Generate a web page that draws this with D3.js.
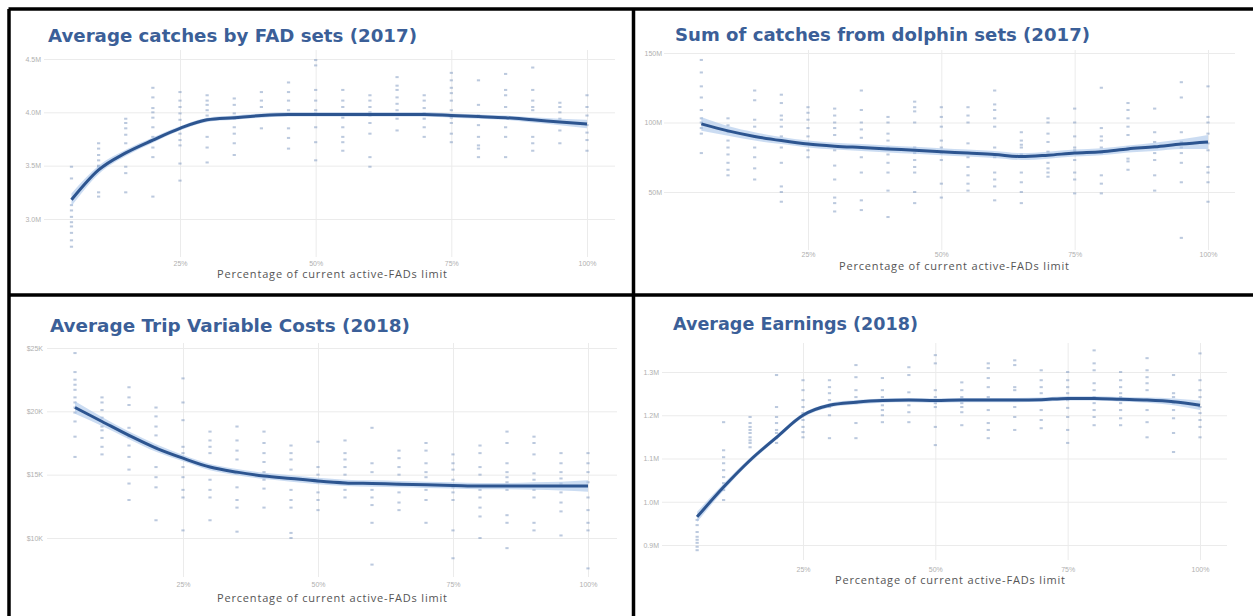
<!DOCTYPE html>
<html>
<head>
<meta charset="utf-8">
<script src="https://cdn.jsdelivr.net/npm/d3@7"></script>
<style>
  body { margin: 0; background: #fff; }
  svg { display: block; font-family: "Open Sans", sans-serif; }
</style>
</head>
<body>
<svg id="chart" width="1253" height="616"></svg>
<script>
// x levels: percentage of current active-FADs limit
const pctLevels = [5, 10, 15, 20, 25, 30, 35, 40, 45, 50, 55, 60, 65, 70, 75, 80, 85, 90, 95, 100];
const xTicks = [25, 50, 75, 100];
const xTickLabels = ["25%", "50%", "75%", "100%"];
const xTitle = "Percentage of current active-FADs limit";

const titles = [
  "Average catches by FAD sets (2017)",
  "Sum of catches from dolphin sets (2017)",
  "Average Trip Variable Costs (2018)",
  "Average Earnings (2018)"
];

// ---- panel 1: FAD catches (M)
const fadTicks = [3.0, 3.5, 4.0, 4.5];
const fadTickLabels = ["3.0M", "3.5M", "4.0M", "4.5M"];
const fadFit = [3.18, 3.46, 3.62, 3.74, 3.85, 3.93, 3.95, 3.97, 3.98, 3.98, 3.98, 3.98, 3.98, 3.98, 3.97, 3.96, 3.95, 3.93, 3.91, 3.89];
const fadSe = [0.06, 0.04, 0.03, 0.025, 0.02, 0.02, 0.02, 0.02, 0.02, 0.02, 0.02, 0.02, 0.02, 0.02, 0.02, 0.02, 0.02, 0.025, 0.03, 0.04];
const fadPts = [
  [3.49, 3.38, 3.13, 3.08, 3.02, 2.97, 2.93, 2.87, 2.80, 2.74],
  [3.71, 3.66, 3.60, 3.55, 3.50, 3.49, 3.46, 3.25, 3.21],
  [3.94, 3.90, 3.85, 3.79, 3.71, 3.49, 3.43, 3.25],
  [4.23, 4.14, 4.04, 4.00, 3.95, 3.86, 3.77, 3.67, 3.58, 3.21],
  [4.19, 4.11, 4.05, 3.99, 3.93, 3.85, 3.80, 3.74, 3.69, 3.52, 3.36],
  [4.16, 4.11, 4.07, 4.02, 3.97, 3.93, 3.77, 3.67, 3.53],
  [4.13, 4.07, 3.99, 3.94, 3.86, 3.80, 3.71, 3.60],
  [4.19, 4.11, 4.05, 3.97, 3.85],
  [4.28, 4.19, 4.11, 4.02, 3.85, 3.76, 3.66],
  [4.49, 4.44, 4.21, 4.11, 4.02, 3.99, 3.86, 3.72, 3.55],
  [4.21, 4.11, 4.05, 3.95, 3.86, 3.77, 3.72, 3.64],
  [4.16, 4.11, 4.05, 4.00, 3.97, 3.90, 3.80, 3.58, 3.49],
  [4.33, 4.25, 4.21, 4.14, 4.08, 4.02, 3.94, 3.83],
  [4.16, 4.11, 4.04, 3.99, 3.94, 3.86, 3.77],
  [4.37, 4.30, 4.23, 4.18, 4.11, 4.02, 3.95, 3.90, 3.80, 3.72],
  [4.30, 4.07, 3.97, 3.88, 3.77, 3.69, 3.66, 3.58],
  [4.36, 4.21, 4.16, 4.05, 3.95, 3.86, 3.77, 3.58],
  [4.42, 4.21, 4.11, 4.05, 4.02, 3.93, 3.77, 3.71, 3.64],
  [4.09, 4.05, 4.00, 3.94, 3.83, 3.71],
  [4.16, 4.05, 3.97, 3.88, 3.81, 3.74, 3.64]
];

// ---- panel 2: dolphin catches (M)
const dolTicks = [50, 100, 150];
const dolTickLabels = ["50M", "100M", "150M"];
const dolFit = [99, 94, 90, 87, 84.5, 83, 82, 81, 80, 79, 78, 77, 75.5, 76.5, 78, 79, 81, 82.5, 84.5, 86];
const dolSe = [5, 3.5, 3, 2.5, 2.5, 2.5, 2.5, 2.5, 2.5, 2.5, 2.5, 2.5, 2.5, 2.5, 2.5, 2.5, 2.5, 3, 3.5, 5];
const dolPts = [
  [145, 136, 126, 118, 109, 103, 100, 96, 92, 78],
  [103, 98, 93, 87, 82, 77, 71, 66, 62],
  [123, 116, 102, 97, 90, 82, 75, 67, 59],
  [120, 114, 105, 102, 97, 90, 82, 71, 54, 50, 43],
  [111, 107, 102, 96, 90, 85, 80, 75],
  [110, 105, 100, 96, 91, 80, 69, 59, 46, 42, 36],
  [123, 109, 100, 95, 89, 82, 75, 64, 44, 37],
  [104, 100, 92, 87, 82, 77, 71, 64, 51, 32],
  [115, 111, 108, 100, 82, 78, 73, 68, 64, 50, 42],
  [111, 104, 97, 87, 82, 78, 73, 56, 46],
  [111, 105, 100, 85, 75, 68, 62, 56, 51],
  [123, 113, 109, 103, 97, 82, 75, 64, 59, 54, 44],
  [93, 87, 84, 82, 77, 64, 57, 50, 42],
  [103, 100, 92, 86, 79, 71, 67, 64, 61],
  [110, 100, 90, 82, 80, 73, 64, 59, 49],
  [125, 96, 90, 87, 82, 78, 62, 56, 49],
  [114, 109, 103, 97, 91, 82, 74, 72, 66],
  [110, 93, 86, 82, 78, 73, 62, 51],
  [129, 118, 93, 86, 82, 78, 71, 57, 17],
  [126, 104, 100, 92, 85, 80, 68, 64, 57, 43]
];

// ---- panel 3: trip variable costs ($K)
const costTicks = [10, 15, 20, 25];
const costTickLabels = ["$10K", "$15K", "$20K", "$25K"];
const costFit = [20.3, 19.2, 18.1, 17.1, 16.3, 15.6, 15.2, 14.9, 14.7, 14.5, 14.35, 14.3, 14.25, 14.2, 14.15, 14.1, 14.1, 14.1, 14.1, 14.1];
const costSe = [0.5, 0.35, 0.3, 0.3, 0.25, 0.25, 0.25, 0.25, 0.25, 0.25, 0.25, 0.25, 0.25, 0.25, 0.25, 0.25, 0.25, 0.3, 0.35, 0.45];
const costPts = [
  [24.6, 23.1, 22.5, 22.1, 21.7, 21.1, 20.7, 20.3, 19.9, 19.2, 18.0, 16.4],
  [21.1, 20.7, 20.1, 19.5, 18.8, 18.5, 17.9, 17.2, 16.6],
  [21.9, 21.1, 20.5, 18.7, 18.0, 17.3, 16.4, 15.4, 14.3, 13.0],
  [20.3, 19.6, 18.8, 18.1, 17.2, 15.6, 14.8, 14.0, 11.4],
  [22.6, 20.7, 19.3, 17.2, 16.7, 15.6, 14.8, 13.8, 13.2, 10.6],
  [18.4, 17.7, 17.2, 16.7, 15.6, 14.6, 13.8, 13.2, 11.4],
  [18.8, 17.7, 16.9, 16.2, 15.1, 14.0, 13.0, 12.4, 10.5],
  [18.4, 17.5, 16.7, 16.0, 15.2, 14.6, 13.9, 12.4],
  [17.3, 16.7, 16.2, 15.4, 14.7, 13.8, 13.0, 12.4, 10.4, 10.0],
  [17.6, 15.6, 15.0, 14.4, 13.6, 13.0, 12.2],
  [17.7, 16.7, 16.2, 15.6, 15.0, 14.4, 13.8, 13.2],
  [18.7, 15.9, 15.2, 14.3, 13.8, 13.2, 12.6, 11.2, 7.9],
  [16.9, 16.3, 15.6, 15.0, 14.3, 13.6, 12.8, 12.2],
  [17.5, 16.9, 15.9, 15.2, 14.8, 13.8, 13.0, 11.2],
  [16.6, 15.9, 15.4, 14.6, 14.0, 13.6, 13.0, 10.6, 8.4],
  [17.3, 16.7, 15.6, 15.0, 13.8, 13.2, 12.4, 11.7, 10.0],
  [18.4, 17.5, 15.9, 15.2, 14.8, 14.4, 13.8, 11.8, 11.2, 9.2],
  [18.0, 17.5, 16.6, 15.1, 14.6, 13.8, 13.2, 11.2, 10.6],
  [16.7, 15.9, 15.2, 14.7, 14.3, 13.6, 12.8, 12.1, 10.2],
  [16.7, 15.9, 15.2, 14.4, 13.2, 12.2, 11.2, 10.6, 7.6]
];

// ---- panel 4: earnings (M)
const earnTicks = [0.9, 1.0, 1.1, 1.2, 1.3];
const earnTickLabels = ["0.9M", "1.0M", "1.1M", "1.2M", "1.3M"];
const earnFit = [0.965, 1.034, 1.096, 1.149, 1.200, 1.223, 1.230, 1.234, 1.235, 1.234, 1.235, 1.235, 1.235, 1.236, 1.239, 1.239, 1.237, 1.235, 1.231, 1.223];
const earnSe = [0.012, 0.008, 0.006, 0.005, 0.005, 0.005, 0.005, 0.005, 0.005, 0.005, 0.005, 0.005, 0.005, 0.005, 0.005, 0.005, 0.005, 0.006, 0.008, 0.011];
const earnPts = [
  [0.958, 0.946, 0.930, 0.919, 0.912, 0.905, 0.896, 0.888],
  [1.184, 1.119, 1.103, 1.089, 1.073, 1.057, 1.043, 1.027, 1.004],
  [1.196, 1.182, 1.173, 1.166, 1.159, 1.149, 1.142, 1.136, 1.126],
  [1.293, 1.219, 1.196, 1.182, 1.166, 1.159, 1.147, 1.136],
  [1.281, 1.258, 1.235, 1.219, 1.205, 1.189, 1.173, 1.161, 1.149],
  [1.281, 1.265, 1.251, 1.235, 1.219, 1.200, 1.147],
  [1.316, 1.288, 1.258, 1.242, 1.228, 1.182, 1.147],
  [1.286, 1.258, 1.242, 1.223, 1.212, 1.200, 1.184],
  [1.311, 1.293, 1.253, 1.235, 1.223, 1.207, 1.184],
  [1.339, 1.320, 1.258, 1.242, 1.228, 1.219, 1.173, 1.131],
  [1.276, 1.258, 1.242, 1.228, 1.219, 1.207, 1.177],
  [1.320, 1.309, 1.286, 1.265, 1.242, 1.212, 1.182, 1.166, 1.147],
  [1.327, 1.316, 1.265, 1.258, 1.235, 1.219, 1.196, 1.166],
  [1.304, 1.281, 1.265, 1.251, 1.235, 1.212, 1.189, 1.170],
  [1.300, 1.281, 1.265, 1.251, 1.235, 1.217, 1.196, 1.166, 1.136],
  [1.350, 1.320, 1.304, 1.274, 1.258, 1.242, 1.228, 1.212, 1.196, 1.177],
  [1.300, 1.281, 1.265, 1.251, 1.242, 1.228, 1.212, 1.193, 1.177],
  [1.332, 1.304, 1.288, 1.274, 1.258, 1.235, 1.212, 1.184, 1.149],
  [1.293, 1.251, 1.242, 1.228, 1.212, 1.193, 1.159, 1.115],
  [1.343, 1.281, 1.258, 1.242, 1.219, 1.205, 1.189, 1.173, 1.149]
];

// layout for each panel (pixel frame)
const panels = [
  { title: titles[0], tx: 48, ty: 42, tw: 369, fit: fadFit, se: fadSe, pts: fadPts, ticks: fadTicks, tickLabels: fadTickLabels,
    x: [180, 587], y: [219, 59], gl: 44, gr: 615, gt: 50, gb: 257, lx: 41, xl: 266, at: 278, ac: 332 },
  { title: titles[1], tx: 675, ty: 41, tw: 415, fit: dolFit, se: dolSe, pts: dolPts, ticks: dolTicks, tickLabels: dolTickLabels,
    x: [808, 1208], y: [192, 53], gl: 664, gr: 1235, gt: 50, gb: 250, lx: 662, xl: 257, at: 270, ac: 954 },
  { title: titles[2], tx: 50, ty: 332, tw: 360, fit: costFit, se: costSe, pts: costPts, ticks: costTicks, tickLabels: costTickLabels,
    x: [183, 588], y: [538, 348], gl: 47, gr: 617, gt: 343, gb: 577, lx: 43, xl: 587, at: 602, ac: 332 },
  { title: titles[3], tx: 673, ty: 330, tw: 245, fit: earnFit, se: earnSe, pts: earnPts, ticks: earnTicks, tickLabels: earnTickLabels,
    x: [803, 1200], y: [545, 372], gl: 662, gr: 1227, gt: 343, gb: 560, lx: 659, xl: 572, at: 584, ac: 950 }
];

const svg = d3.select("#chart");

panels.forEach(p => {
  const g = svg.append("g");
  const xScale = d3.scaleLinear().domain([25, 100]).range(p.x);
  const yScale = d3.scaleLinear().domain([p.ticks[0], p.ticks[p.ticks.length - 1]]).range(p.y);

  // horizontal grid + y labels
  const yAxis = d3.axisLeft(yScale).tickValues(p.ticks)
    .tickFormat((d, i) => p.tickLabels[i]).tickSize(p.gl - p.gr).tickPadding(3);
  g.append("g").attr("transform", `translate(${p.gl},0)`).call(yAxis)
    .call(a => a.select(".domain").remove())
    .call(a => a.selectAll("line").attr("stroke", "#ebebeb"))
    .call(a => a.selectAll("text").attr("fill", "#b0b0b0").attr("font-size", 7).attr("x", p.lx - p.gl));

  // vertical grid + x labels
  const xAxis = d3.axisBottom(xScale).tickValues(xTicks)
    .tickFormat((d, i) => xTickLabels[i]).tickSize(-(p.gb - p.gt)).tickPadding(0);
  g.append("g").attr("transform", `translate(0,${p.gb})`).call(xAxis)
    .call(a => a.select(".domain").remove())
    .call(a => a.selectAll("line").attr("stroke", "#ebebeb"))
    .call(a => a.selectAll("text").attr("fill", "#b0b0b0").attr("font-size", 7)
      .attr("y", p.xl - p.gb).attr("dy", 0));

  // scatter points
  const flat = [];
  p.pts.forEach((col, i) => col.forEach(v => flat.push({ x: pctLevels[i], y: v })));
  g.append("g").selectAll("rect").data(flat).join("rect")
    .attr("x", d => xScale(d.x) - 1.6)
    .attr("y", d => yScale(d.y) - 1)
    .attr("width", 3.2).attr("height", 2)
    .attr("fill", "#7894bd").attr("opacity", 0.5);

  // confidence band and fitted line
  const fitData = pctLevels.map((v, i) => ({ x: v, y: p.fit[i], se: p.se[i] }));
  g.append("path").datum(fitData)
    .attr("fill", "#a8c5ea").attr("opacity", 0.6)
    .attr("d", d3.area().curve(d3.curveMonotoneX)
      .x(d => xScale(d.x)).y0(d => yScale(d.y - d.se)).y1(d => yScale(d.y + d.se)));
  g.append("path").datum(fitData)
    .attr("fill", "none").attr("stroke", "#2d5590").attr("stroke-width", 3)
    .attr("d", d3.line().curve(d3.curveMonotoneX).x(d => xScale(d.x)).y(d => yScale(d.y)));

  // titles
  g.append("text").attr("x", p.tx).attr("y", p.ty)
    .attr("fill", "#3b5f98").attr("font-family", "'DejaVu Sans', sans-serif")
    .attr("font-size", 17.5).attr("font-weight", 700)
    .attr("textLength", p.tw).attr("lengthAdjust", "spacingAndGlyphs")
    .text(p.title);
  g.append("text").attr("x", p.ac).attr("y", p.at)
    .attr("text-anchor", "middle").attr("fill", "#555").attr("font-size", 11)
    .attr("textLength", 230).attr("lengthAdjust", "spacing")
    .text(xTitle);
});

// black frame lines between the four panels
const frame = [
  [8.5, 9, 1253, 9], [9, 9, 9, 616], [633.5, 9, 633.5, 616], [9, 295, 1253, 295]
];
svg.append("g").selectAll("line").data(frame).join("line")
  .attr("x1", d => d[0]).attr("y1", d => d[1]).attr("x2", d => d[2]).attr("y2", d => d[3])
  .attr("stroke", "#000").attr("stroke-width", 3.5);
</script>
</body>
</html>
